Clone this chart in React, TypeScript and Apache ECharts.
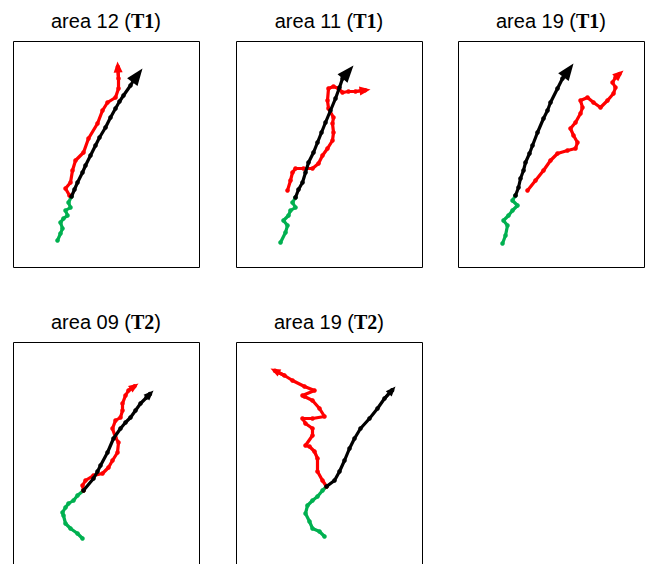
import React, { useEffect, useRef } from 'react';
import * as echarts from 'echarts';

type Pt = [number, number];

// Panel frame (in pixels) — axis units equal pixels inside each box
const BOX_W = 186;
const BOX_H = 226;
const COL_LEFT = [13, 236, 458];
const ROW_TOP = [41, 342];

const TITLE_AREAS = ['area 12', 'area 11', 'area 19', 'area 09', 'area 19'];
const TITLE_TAGS = ['T1', 'T1', 'T1', 'T2', 'T2'];

// ---- Panel 1: area 12 (T1)
const P1_GREEN: Pt[] = [[44, 27], [47, 34], [49, 39], [47, 45], [50, 49], [54, 52], [52, 57], [57, 60], [55, 65], [58, 71]];
const P1_BLACK: Pt[] = [[58, 71], [61, 78], [64, 85], [69, 95], [72, 102], [77, 112], [82, 122], [86, 130], [92, 140], [97, 150], [102, 159], [106, 166], [110, 172], [117, 182], [120, 187], [129, 199]];
const P1_RED: Pt[] = [[56, 72], [52, 79], [57, 85], [59, 97], [62, 107], [70, 115], [75, 129], [84, 144], [89, 157], [94, 165], [102, 170], [105, 179], [105, 189], [104, 206]];

// ---- Panel 2: area 11 (T1)
const P2_GREEN: Pt[] = [[44, 25], [49, 35], [51, 42], [47, 47], [52, 52], [54, 57], [59, 60], [56, 65], [59, 70]];
const P2_BLACK: Pt[] = [[59, 70], [62, 78], [66, 85], [69, 95], [72, 105], [77, 115], [81, 125], [85, 135], [89, 145], [94, 157], [99, 169], [103, 180], [106, 189], [117, 202]];
const P2_RED: Pt[] = [[51, 77], [54, 87], [56, 95], [59, 99], [67, 99], [76, 99], [82, 104], [86, 112], [91, 119], [96, 127], [97, 135], [96, 144], [97, 150], [92, 159], [91, 167], [92, 179], [97, 181], [102, 179], [106, 175], [112, 176], [119, 176], [134, 178]];

// ---- Panel 3: area 19 (T1)
const P3_GREEN: Pt[] = [[44, 24], [47, 32], [49, 42], [45, 47], [50, 52], [54, 57], [59, 62], [54, 67], [57, 72]];
const P3_BLACK: Pt[] = [[57, 72], [60, 80], [62, 89], [65, 97], [67, 105], [71, 114], [74, 122], [79, 135], [85, 149], [89, 157], [92, 165], [99, 179], [104, 189], [115, 204]];
const P3_RED: Pt[] = [[69, 77], [77, 87], [85, 97], [92, 107], [99, 114], [109, 117], [117, 119], [119, 125], [115, 132], [112, 139], [117, 145], [122, 154], [124, 160], [122, 167], [129, 170], [135, 165], [142, 160], [149, 167], [155, 174], [157, 180], [154, 185], [157, 190], [165, 197]];

// ---- Panel 4: area 09 (T2)
const P4_GREEN: Pt[] = [[69, 30], [64, 35], [57, 40], [52, 45], [50, 53], [49, 56], [52, 61], [55, 65], [60, 68], [64, 73], [70, 78]];
const P4_BLACK: Pt[] = [[70, 78], [80, 90], [84, 97], [87, 103], [94, 116], [100, 130], [107, 140], [112, 146], [117, 151], [122, 158], [127, 165], [133, 171], [140, 178]];
const P4_RED: Pt[] = [[70, 78], [69, 83], [72, 88], [80, 93], [89, 95], [95, 101], [99, 108], [104, 116], [105, 126], [102, 131], [99, 140], [102, 148], [107, 151], [109, 158], [109, 165], [112, 173], [115, 178], [125, 185]];

// ---- Panel 5: area 19 (T2)
const P5_GREEN: Pt[] = [[88, 32], [83, 37], [76, 40], [73, 47], [69, 55], [71, 63], [76, 68], [81, 72], [86, 78], [90, 82]];
const P5_BLACK: Pt[] = [[90, 82], [98, 88], [103, 97], [108, 108], [113, 120], [118, 130], [124, 140], [133, 150], [141, 160], [148, 170], [159, 182]];
const P5_RED: Pt[] = [[90, 82], [86, 88], [81, 97], [81, 110], [78, 117], [73, 122], [69, 123], [76, 133], [76, 140], [69, 145], [66, 150], [76, 150], [88, 152], [83, 160], [76, 168], [68, 172], [66, 173], [78, 178], [68, 182], [56, 188], [48, 193], [34, 200]];

const GREEN = '#00b050';
const BLACK = '#000000';
const RED = '#ff0000';

const PANELS = [
  { green: P1_GREEN, black: P1_BLACK, red: P1_RED, blackArrow: [13, 17], redArrow: [9, 11] },
  { green: P2_GREEN, black: P2_BLACK, red: P2_RED, blackArrow: [13, 17], redArrow: [9, 11] },
  { green: P3_GREEN, black: P3_BLACK, red: P3_RED, blackArrow: [13, 17], redArrow: [9, 11] },
  { green: P4_GREEN, black: P4_BLACK, red: P4_RED, blackArrow: [8, 10], redArrow: [8, 10] },
  { green: P5_GREEN, black: P5_BLACK, red: P5_RED, blackArrow: [8, 10], redArrow: [8, 10] },
];

const LINE_W = 3.2;

function withArrow(pts: Pt[], color: string, size: number[], idx: number) {
  const n = pts.length;
  const a = pts[n - 2];
  const b = pts[n - 1];
  const dx = b[0] - a[0];
  const dy = b[1] - a[1];
  const L = Math.hypot(dx, dy) || 1;
  const back = size[1] / 2;
  const end: Pt = [b[0] - (dx / L) * back, b[1] - (dy / L) * back];
  const lineData = pts.slice(0, n - 1).concat([end]);
  return {
    type: 'line',
    xAxisIndex: idx,
    yAxisIndex: idx,
    data: lineData,
    showSymbol: true,
    symbol: 'circle',
    symbolSize: 4.5,
    lineStyle: { color, width: LINE_W },
    itemStyle: { color },
    silent: true,
    z: color === RED ? 3 : 4,
    markLine: {
      silent: true,
      animation: false,
      symbol: ['none', 'triangle'],
      symbolSize: size,
      label: { show: false },
      lineStyle: { color, width: LINE_W, type: 'solid' },
      emphasis: { disabled: true },
      data: [[{ coord: a }, { coord: end }]],
    },
  };
}

export default function App() {
  const ref = useRef<HTMLDivElement>(null);
  useEffect(() => {
    if (!ref.current) return;
    const chart = echarts.init(ref.current, undefined, { renderer: 'svg' });
    const grids: any[] = [];
    const xAxes: any[] = [];
    const yAxes: any[] = [];
    const series: any[] = [];
    const graphics: any[] = [];
    PANELS.forEach((p, i) => {
      const col = i % 3;
      const row = Math.floor(i / 3);
      const left = COL_LEFT[col];
      const top = ROW_TOP[row];
      grids.push({
        left: left + 0.5,
        top: top + 0.5,
        width: BOX_W,
        height: BOX_H,
        show: true,
        borderColor: '#000',
        borderWidth: 1,
        backgroundColor: 'transparent',
        containLabel: false,
      });
      xAxes.push({ type: 'value', gridIndex: i, min: 0, max: BOX_W, show: false });
      yAxes.push({ type: 'value', gridIndex: i, min: 0, max: BOX_H, show: false });
      series.push({
        type: 'line',
        xAxisIndex: i,
        yAxisIndex: i,
        data: p.green,
        showSymbol: true,
        symbol: 'circle',
        symbolSize: 4.5,
        lineStyle: { color: GREEN, width: LINE_W },
        itemStyle: { color: GREEN },
        silent: true,
        z: 2,
      });
      series.push(withArrow(p.red, RED, p.redArrow, i));
      series.push(withArrow(p.black, BLACK, p.blackArrow, i));
      graphics.push({
        type: 'text',
        x: left + BOX_W / 2,
        y: top - 20,
        style: {
          text: `{a|${TITLE_AREAS[i]} (}{b|${TITLE_TAGS[i]}}{a|)}`,
          align: 'center',
          verticalAlign: 'middle',
          rich: {
            a: { fontFamily: 'Liberation Sans', fontSize: 20, fill: '#000' },
            b: { fontFamily: 'Liberation Serif', fontWeight: 'bold', fontSize: 20, fill: '#000' },
          },
        },
      });
    });
    chart.setOption({
      animation: false,
      backgroundColor: '#fff',
      grid: grids,
      xAxis: xAxes,
      yAxis: yAxes,
      series,
      graphic: graphics,
    });
    return () => chart.dispose();
  }, []);
  return (
    <div
      style={{ position: 'absolute', left: 0, top: 0, width: 648, height: 564, overflow: 'hidden' }}
    >
      <div ref={ref} style={{ width: 648, height: 600 }} />
    </div>
  );
}
